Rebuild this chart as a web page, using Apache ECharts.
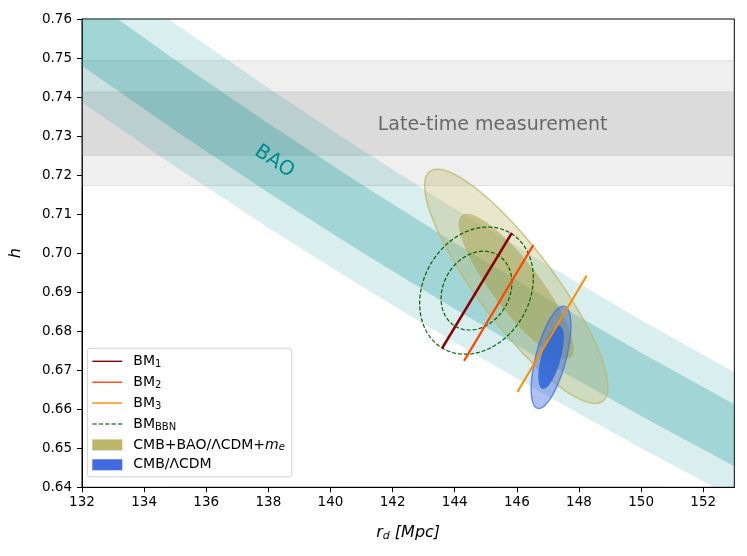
<!DOCTYPE html>
<html>
<head>
<meta charset="utf-8">
<script src="https://cdn.jsdelivr.net/npm/echarts@6/dist/echarts.min.js"></script>
<style>
  html, body { margin: 0; padding: 0; background: #fff; }
  #chart { width: 747px; height: 556px; }
</style>
</head>
<body>
<div id="chart"></div>
<script>
// BAO band edges, h at these r_d values
const baoRd = [132, 135, 138, 141, 144, 147, 150, 153];
const baoOuterLow = [0.7386, 0.7222, 0.7065, 0.6915, 0.6771, 0.6633, 0.6500, 0.6373];
const baoInnerLow = [0.7480, 0.7314, 0.7155, 0.7003, 0.6857, 0.6717, 0.6583, 0.6454];
const baoInnerHigh = [0.7665, 0.7495, 0.7332, 0.7176, 0.7026, 0.6883, 0.6745, 0.6613];
const baoOuterHigh = [0.7761, 0.7588, 0.7423, 0.7265, 0.7114, 0.6969, 0.6829, 0.6695];

// late-time h, inner and outer ranges
const lateInner = [0.7251, 0.7413];
const lateOuter = [0.7173, 0.7493];

// BM lines, [r_d, h] end points
const bm1 = [[143.59, 0.6756], [145.84, 0.7052]];
const bm2 = [[144.30, 0.6724], [146.53, 0.7021]];
const bm3 = [[146.02, 0.6645], [148.25, 0.6943]];

// contours: centre, half widths (outer / inner), correlation
const bbnCenter = [144.70, 0.6904];
const bbnOuter = [1.83, 0.0163];
const bbnInner = [1.14, 0.0101];
const bbnRho = 0.2;

const cmbMeCenter = [145.98, 0.6915];
const cmbMeOuter = [2.95, 0.0300];
const cmbMeInner = [1.85, 0.0186];
const cmbMeRho = -0.86;

const cmbCenter = [147.10, 0.6733];
const cmbOuter = [0.64, 0.0131];
const cmbInner = [0.41, 0.0081];
const cmbRho = 0.62;

// text positions
const lateLabelPos = [145.22, 0.7328];
const baoLabelPos = [138.19, 0.7235];

const xTicks = [132, 134, 136, 138, 140, 142, 144, 146, 148, 150, 152];
const yTicks = [0.64, 0.65, 0.66, 0.67, 0.68, 0.69, 0.70, 0.71, 0.72, 0.73, 0.74, 0.75, 0.76];

const FONT = 'DejaVu Sans';

// legend icons: solid and dashed strokes
const solidIcon = 'path://M0,0H30V1.4H0Z';
const dashIcon = 'path://M0,0h4.4v1.3h-4.4z M6.4,0h4.4v1.3h-4.4z M12.8,0h4.4v1.3h-4.4z M19.2,0h4.4v1.3h-4.4z M25.6,0h4.4v1.3h-4.4z';

function bandSeries(low, high, fill) {
  return {
    type: 'custom',
    silent: true,
    clip: true,
    data: [[baoRd[0], low[0]]],
    renderItem: function (params, api) {
      const pts = [];
      for (let i = 0; i < baoRd.length; i++) pts.push(api.coord([baoRd[i], high[i]]));
      for (let i = baoRd.length - 1; i >= 0; i--) pts.push(api.coord([baoRd[i], low[i]]));
      return { type: 'polygon', shape: { points: pts }, style: { fill: fill } };
    }
  };
}

function hSpanSeries(range, fill) {
  return {
    type: 'custom',
    silent: true,
    clip: true,
    data: [[132, range[0]]],
    renderItem: function (params, api) {
      const cs = params.coordSys;
      const top = api.coord([132, range[1]])[1];
      const bot = api.coord([132, range[0]])[1];
      return {
        type: 'rect',
        shape: { x: cs.x, y: top, width: cs.width, height: bot - top },
        style: { fill: fill, stroke: 'rgba(128,128,128,0.2)', lineWidth: 1 }
      };
    }
  };
}

function ellipseSeries(name, center, half, rho, style, color) {
  const s = {
    type: 'custom',
    name: name,
    silent: true,
    clip: true,
    data: [[center[0], center[1]]],
    renderItem: function (params, api) {
      const pts = [];
      const k = Math.sqrt(1 - rho * rho);
      for (let i = 0; i < 144; i++) {
        const t = i / 144 * 2 * Math.PI;
        pts.push(api.coord([
          center[0] + half[0] * Math.cos(t),
          center[1] + half[1] * (rho * Math.cos(t) + k * Math.sin(t))
        ]));
      }
      return { type: 'polygon', shape: { points: pts }, style: style };
    }
  };
  if (color) s.itemStyle = { color: color };
  return s;
}

function textSeries(pos, text, color, size, rotation) {
  return {
    type: 'custom',
    silent: true,
    data: [pos],
    renderItem: function (params, api) {
      const c = api.coord([api.value(0), api.value(1)]);
      return {
        type: 'text',
        x: c[0], y: c[1],
        rotation: rotation || 0,
        style: {
          text: text, fill: color, fontSize: size, fontFamily: FONT,
          align: 'center', verticalAlign: 'middle'
        }
      };
    }
  };
}

function bmSeries(name, pts, color, width) {
  return {
    type: 'line',
    name: name,
    data: pts,
    symbol: 'none',
    silent: true,
    lineStyle: { color: color, width: width },
    itemStyle: { color: color },
    z: 5
  };
}

const legendNames = {
  BM1: '{n|BM}{s|1}',
  BM2: '{n|BM}{s|2}',
  BM3: '{n|BM}{s|3}',
  BBN: '{n|BM}{s|BBN}',
  CMBBAO: '{n|CMB+BAO/ΛCDM+}{i|m}{si|e}',
  CMB: '{n|CMB/ΛCDM}'
};

const chart = echarts.init(document.getElementById('chart'));

chart.setOption({
  animation: false,
  backgroundColor: '#fff',
  grid: {
    left: 81.5, right: 12.7, top: 19, bottom: 68.7,
    show: true, borderColor: '#000', borderWidth: 1, backgroundColor: 'transparent'
  },
  xAxis: {
    type: 'value', min: 132, max: 153,
    name: '{i|r}{s|d}{i| [Mpc]}',
    nameLocation: 'middle', nameGap: 36,
    nameTextStyle: {
      rich: {
        i: { fontSize: 16, fontStyle: 'italic', fontFamily: FONT, color: '#000', lineHeight: 20 },
        s: { fontSize: 11, fontStyle: 'italic', fontFamily: FONT, color: '#000', lineHeight: 20, padding: [6, 0, 0, 0] }
      }
    },
    axisLine: { lineStyle: { color: '#000', width: 1 } },
    axisTick: { length: 5, lineStyle: { color: '#000' }, customValues: xTicks },
    axisLabel: { customValues: xTicks, color: '#000', fontSize: 13.5, fontFamily: FONT, margin: 8 },
    splitLine: { show: false }
  },
  yAxis: {
    type: 'value', min: 0.64, max: 0.76,
    name: 'h', nameLocation: 'middle', nameRotate: 90, nameGap: 58,
    nameTextStyle: { fontSize: 16, fontStyle: 'italic', fontFamily: FONT, color: '#000' },
    axisLine: { lineStyle: { color: '#000', width: 1 } },
    axisTick: { length: 5, lineStyle: { color: '#000' }, customValues: yTicks },
    axisLabel: {
      customValues: yTicks, color: '#000', fontSize: 13.5, fontFamily: FONT, margin: 10,
      formatter: function (v) { return v.toFixed(2); }
    },
    splitLine: { show: false }
  },
  legend: {
    orient: 'vertical',
    left: 87.3, top: 348.3,
    padding: [5, 7, 5, 5],
    itemGap: 4.9,
    itemWidth: 30, itemHeight: 11,
    symbolKeepAspect: true,
    backgroundColor: 'rgba(255,255,255,0.8)',
    borderColor: '#d0d0d0', borderWidth: 1, borderRadius: 3,
    data: [
      { name: 'BM1', icon: solidIcon },
      { name: 'BM2', icon: solidIcon },
      { name: 'BM3', icon: solidIcon },
      { name: 'BBN', icon: dashIcon },
      { name: 'CMBBAO', icon: 'rect' },
      { name: 'CMB', icon: 'rect' }
    ],
    formatter: function (name) { return legendNames[name]; },
    textStyle: {
      rich: {
        n: { fontSize: 14, fontFamily: FONT, color: '#000', lineHeight: 16, padding: [0, 0, 0, 6] },
        s: { fontSize: 10, fontFamily: FONT, color: '#000', lineHeight: 16, padding: [6, 0, 0, 0] },
        i: { fontSize: 14, fontFamily: FONT, fontStyle: 'italic', color: '#000', lineHeight: 16 },
        si: { fontSize: 10, fontFamily: FONT, fontStyle: 'italic', color: '#000', lineHeight: 16, padding: [6, 0, 0, 0] }
      }
    }
  },
  series: [
    hSpanSeries(lateOuter, 'rgba(128,128,128,0.125)'),
    hSpanSeries(lateInner, 'rgba(128,128,128,0.18)'),
    bandSeries(baoOuterLow, baoOuterHigh, 'rgba(0,139,139,0.15)'),
    bandSeries(baoInnerLow, baoInnerHigh, 'rgba(0,139,139,0.25)'),
    textSeries(lateLabelPos, 'Late-time measurement', '#686868', 19, 0),
    textSeries(baoLabelPos, 'BAO', '#008b8b', 20, -33.3 * Math.PI / 180),
    ellipseSeries('CMBBAO', cmbMeCenter, cmbMeOuter, cmbMeRho,
      { fill: 'rgba(189,183,107,0.35)', stroke: 'rgba(189,183,107,0.75)', lineWidth: 1.5 }, '#bdb76b'),
    ellipseSeries('CMBBAO', cmbMeCenter, cmbMeInner, cmbMeRho,
      { fill: 'rgba(160,150,60,0.45)' }, '#bdb76b'),
    ellipseSeries('CMB', cmbCenter, cmbOuter, cmbRho,
      { fill: 'rgba(65,105,225,0.42)', stroke: 'rgba(65,105,225,0.7)', lineWidth: 1.5 }, '#4169e1'),
    ellipseSeries('CMB', cmbCenter, cmbInner, cmbRho,
      { fill: 'rgba(45,100,215,0.85)' }, '#4169e1'),
    ellipseSeries('bbnContour', bbnCenter, bbnOuter, bbnRho,
      { fill: 'none', stroke: '#006400', lineWidth: 1.2, lineDash: [4, 2] }),
    ellipseSeries('bbnContour', bbnCenter, bbnInner, bbnRho,
      { fill: 'none', stroke: '#006400', lineWidth: 1.2, lineDash: [4, 2] }),
    bmSeries('BM1', bm1, '#8b0000', 2.6),
    bmSeries('BM2', bm2, '#ff4500', 2.2),
    bmSeries('BM3', bm3, '#ff8c00', 2),
    {
      type: 'line', name: 'BBN', data: [], symbol: 'none',
      lineStyle: { color: '#3a8a3a', width: 1.2, type: [4, 2] },
      itemStyle: { color: '#3a8a3a' }
    }
  ]
});
</script>
</body>
</html>
